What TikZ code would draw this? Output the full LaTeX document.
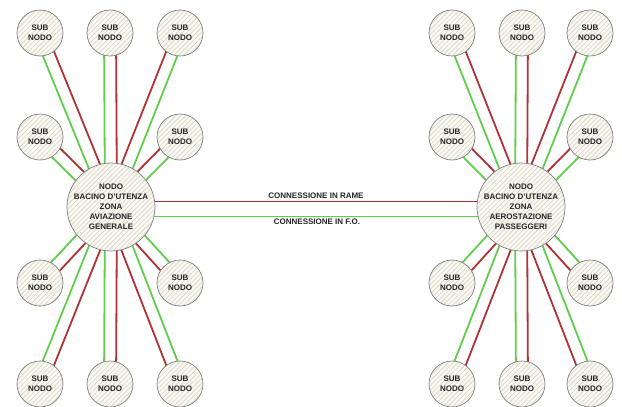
\documentclass[tikz,border=0pt]{standalone}
\usepackage{fontspec}
\setmainfont{Liberation Sans}
\usetikzlibrary{calc,backgrounds,patterns.meta}
\definecolor{rame}{RGB}{176,50,52}
\definecolor{fibra}{RGB}{96,206,76}
\definecolor{hatchbg}{RGB}{249,248,242}
\definecolor{hatchln}{RGB}{216,211,193}
\definecolor{rim}{RGB}{128,128,128}
\tikzset{
  nodo/.style={circle,draw=rim,line width=0.7pt,minimum size=88pt,inner sep=0pt,
    preaction={fill=hatchbg},
    pattern={Lines[angle=45,distance=3.4pt,line width=0.6pt]},pattern color=hatchln,
    align=center,text=black!85,font=\fontsize{8}{10}\selectfont\bfseries},
  subnodo/.style={nodo,minimum size=46pt},
  cavo/.style={line width=1.8pt},
  linea/.style={line width=0.8pt},
  etichetta/.style={text=black!85,font=\fontsize{8}{10}\selectfont\bfseries}
}
% green on one side, red on the other (#3 = +1 or -1)
\newcommand{\drawpair}[3]{
\pgfmathsetmacro{\ga}{90*(#3)}
\pgfmathsetmacro{\ra}{-90*(#3)}
  \draw[cavo,fibra] ($(#1)!6pt!\ga:(#2)$) -- ($(#2)!6pt!\ra:(#1)$);
  \draw[cavo,rame] ($(#1)!6pt!\ra:(#2)$) -- ($(#2)!6pt!\ga:(#1)$);
}
\begin{document}
\begin{tikzpicture}[x=1pt,y=-1pt]
\useasboundingbox (0,0) rectangle (622,407);
% main nodes
\node[nodo] (ml) at (111,207) {NODO\\BACINO D'UTENZA\\ZONA\\AVIAZIONE\\GENERALE};
\node[nodo] (mr) at (521,207) {NODO\\BACINO D'UTENZA\\ZONA\\AEROSTAZIONE\\PASSEGGERI};
% sub nodes
\foreach \nome/\px/\py in {sl1/40/33,sl2/110/33,sl3/180/33,sl4/40/137,sl5/180/137,
    sl6/40/283,sl7/180/283,sl8/40/384,sl9/110/384,sl10/180/384,
    sr1/452/33,sr2/522/33,sr3/590/33,sr4/452/137,sr5/590/137,
    sr6/452/283,sr7/590/283,sr8/452/384,sr9/522/384,sr10/590/384} {
  \node[subnodo] (\nome) at (\px,\py) {SUB\\NODO};
}
\node[etichetta] (lrame) at (316,196) {CONNESSIONE IN RAME};
\node[etichetta] (lfo) at (317,222) {CONNESSIONE IN F.O.};
\begin{scope}[on background layer]
\foreach \i/\s in {1/-1,2/-1,3/1,4/-1,5/1,6/1,7/-1,8/1,9/1,10/-1} {
  \drawpair{sl\i}{ml}{\s}
  \drawpair{sr\i}{mr}{\s}
}
\draw[linea,rame] ([yshift=5.5pt]ml.center) -- ([yshift=5.5pt]mr.center);
\draw[linea,fibra] ([yshift=-9.5pt]ml.center) -- ([yshift=-9.5pt]mr.center);
\end{scope}
\end{tikzpicture}
\end{document}
